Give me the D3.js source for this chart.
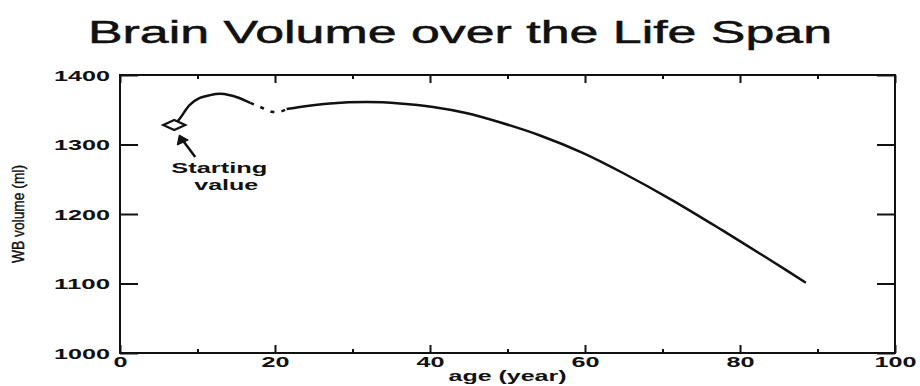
<!DOCTYPE html>
<html>
<head>
<meta charset="utf-8">
<script src="https://cdn.jsdelivr.net/npm/d3@7"></script>
<style>
  html, body { margin: 0; padding: 0; background: #fff; }
  svg { display: block; }
  text { font-family: "Liberation Sans", Arial, Helvetica, sans-serif; fill: #111; }
</style>
</head>
<body>
<svg id="chart" width="920" height="386"></svg>
<script>
// Whole-brain volume across the life span
const chartTitle = "Brain Volume over the Life Span";
const xLabel = "age (year)";
const yLabel = "WB volume (ml)";

// childhood segment, starting at the marked first value
const earlyAges   = [7.0, 7.7, 9.0, 10.3, 11.6, 12.9, 14.2, 15.1, 16.8];
const earlyVolume = [1328, 1337, 1357, 1367, 1371, 1373, 1371, 1368, 1360];

// dashed bridge between childhood and adult segments
const bridgeAges   = [16.8, 18.1, 19.6, 20.9, 21.5];
const bridgeVolume = [1360, 1354, 1347, 1348, 1351];

// adult segment
const adultAges   = [21.5, 23.2, 27.1, 31.9, 36.1, 40.4, 44.8, 49.0, 54.2, 59.7, 64.9, 71.4, 77.8, 84.3, 88.5];
const adultVolume = [1351, 1354, 1359, 1361, 1359, 1354, 1345, 1332, 1313, 1288, 1259, 1219, 1176, 1131, 1101];

const startAge = 7.0, startVolume = 1328;
const startLabel = ["Starting", "value"];

const xMajorTicks = [0, 20, 40, 60, 80, 100];
const xMinorTicks = [10, 30, 50, 70, 90];
const yTicks = [1000, 1100, 1200, 1300, 1400];

const svg = d3.select("#chart");
const plotLeft = 120, plotRight = 895, plotTop = 75, plotBottom = 353;

const x = d3.scaleLinear().domain([0, 100]).range([plotLeft, plotRight]);
const y = d3.scaleLinear().domain([1000, 1400]).range([plotBottom, plotTop]);

// stretch glyphs horizontally to a fixed width per character
function stretch(sel, perChar) {
  sel.each(function () {
    const t = d3.select(this);
    const n = t.text().length;
    t.attr("textLength", n * perChar).attr("lengthAdjust", "spacingAndGlyphs");
  });
}

// title
svg.append("text")
  .attr("x", 88).attr("y", 43)
  .attr("font-size", 31)
  .attr("stroke", "#111").attr("stroke-width", 0.5)
  .attr("textLength", 744).attr("lengthAdjust", "spacingAndGlyphs")
  .text(chartTitle);

// axes with inward ticks
function styleAxis(g) {
  g.select(".domain").remove();
  g.selectAll(".tick line").attr("stroke", "#111").attr("stroke-width", 2);
  g.selectAll("text").attr("font-size", 14).attr("font-weight", "bold").attr("fill", "#111")
    .attr("font-family", "Liberation Sans, Arial, sans-serif");
}

const gx = svg.append("g").attr("transform", `translate(0,${plotBottom})`)
  .call(d3.axisBottom(x).tickValues(xMajorTicks).tickSize(-8).tickSizeOuter(0).tickPadding(4).tickFormat(d3.format("d")));
styleAxis(gx);
stretch(gx.selectAll("text"), 14);

const gxMinor = svg.append("g").attr("transform", `translate(0,${plotBottom})`)
  .call(d3.axisBottom(x).tickValues(xMinorTicks).tickSize(-4).tickSizeOuter(0).tickFormat(""));
styleAxis(gxMinor);

const gxTop = svg.append("g").attr("transform", `translate(0,${plotTop})`)
  .call(d3.axisTop(x).tickValues(xMajorTicks).tickSize(-8).tickSizeOuter(0).tickFormat(""));
styleAxis(gxTop);
const gxTopMinor = svg.append("g").attr("transform", `translate(0,${plotTop})`)
  .call(d3.axisTop(x).tickValues(xMinorTicks).tickSize(-4).tickSizeOuter(0).tickFormat(""));
styleAxis(gxTopMinor);

const gy = svg.append("g").attr("transform", `translate(${plotLeft},0)`)
  .call(d3.axisLeft(y).tickValues(yTicks).tickSize(-18).tickSizeOuter(0).tickPadding(10).tickFormat(d3.format("d")));
styleAxis(gy);
stretch(gy.selectAll("text"), 14);
gy.selectAll("text").attr("dy", "0.36em");

const gyRight = svg.append("g").attr("transform", `translate(${plotRight},0)`)
  .call(d3.axisRight(y).tickValues(yTicks).tickSize(-18).tickSizeOuter(0).tickFormat(""));
styleAxis(gyRight);

// frame
svg.append("rect")
  .attr("x", plotLeft).attr("y", plotTop)
  .attr("width", plotRight - plotLeft).attr("height", plotBottom - plotTop)
  .attr("fill", "none").attr("stroke", "#111").attr("stroke-width", 2);

// axis titles
svg.append("text")
  .attr("x", (plotLeft + plotRight) / 2).attr("y", 381)
  .attr("text-anchor", "middle")
  .attr("font-size", 14).attr("font-weight", "bold")
  .attr("textLength", 118).attr("lengthAdjust", "spacingAndGlyphs")
  .text(xLabel);

svg.append("g")
  .attr("transform", "translate(24,214) scale(1.45,1) rotate(-90)")
  .append("text")
  .attr("text-anchor", "middle")
  .attr("font-size", 11.5)
  .attr("stroke", "#111").attr("stroke-width", 0.3)
  .attr("textLength", 98).attr("lengthAdjust", "spacingAndGlyphs")
  .text(yLabel);

// curve
const line = d3.line().x(d => x(d[0])).y(d => y(d[1])).curve(d3.curveCatmullRom.alpha(0.5));
const zip = (a, b) => a.map((v, i) => [v, b[i]]);

svg.append("path").datum(zip(earlyAges, earlyVolume))
  .attr("d", line).attr("fill", "none").attr("stroke", "#111").attr("stroke-width", 2.5);
svg.append("path").datum(zip(bridgeAges, bridgeVolume))
  .attr("d", line).attr("fill", "none").attr("stroke", "#111").attr("stroke-width", 2.5)
  .attr("stroke-dasharray", "4,7");
svg.append("path").datum(zip(adultAges, adultVolume))
  .attr("d", line).attr("fill", "none").attr("stroke", "#111").attr("stroke-width", 2.5);

// starting value marker
const sx = x(startAge), sy = y(startVolume);
svg.append("path")
  .attr("d", `M${sx - 11},${sy} L${sx},${sy - 5} L${sx + 11},${sy} L${sx},${sy + 5} Z`)
  .attr("fill", "#fff").attr("stroke", "#111").attr("stroke-width", 2.2);

// arrow pointing to the marker
const tipX = sx + 5, tipY = sy + 10;
const tailX = sx + 21, tailY = sy + 32;
svg.append("path")
  .attr("d", `M${tailX},${tailY} L${tipX + 1},${tipY + 2}`)
  .attr("stroke", "#111").attr("stroke-width", 2.5).attr("fill", "none");
svg.append("path")
  .attr("d", `M${tipX},${tipY} L${tipX - 2},${tipY + 10} L${tipX + 9},${tipY + 5} Z`)
  .attr("fill", "#111").attr("stroke", "#111").attr("stroke-width", 1);

svg.append("text")
  .attr("x", sx + 45).attr("y", sy + 48)
  .attr("text-anchor", "middle")
  .attr("font-size", 15).attr("font-weight", "bold")
  .attr("textLength", 96).attr("lengthAdjust", "spacingAndGlyphs")
  .text(startLabel[0]);
svg.append("text")
  .attr("x", sx + 52).attr("y", sy + 65)
  .attr("text-anchor", "middle")
  .attr("font-size", 15).attr("font-weight", "bold")
  .attr("textLength", 64).attr("lengthAdjust", "spacingAndGlyphs")
  .text(startLabel[1]);
</script>
</body>
</html>
